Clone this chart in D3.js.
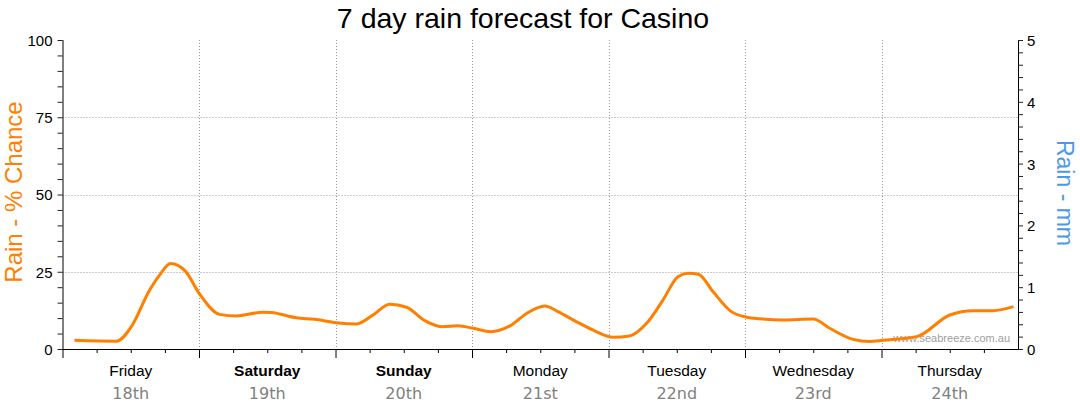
<!DOCTYPE html>
<html><head><meta charset="utf-8">
<script src="https://cdn.jsdelivr.net/npm/d3@7"></script>
<style>body{margin:0;background:#fff}svg{display:block}</style>
</head><body><svg id="c" width="1080" height="414"></svg>
<script>
// Data
const title = "7 day rain forecast for Casino";
const dayNames = ["Friday","Saturday","Sunday","Monday","Tuesday","Wednesday","Thursday"];
const dayDates = ["18th","19th","20th","21st","22nd","23rd","24th"];
const weekend = [false,true,true,false,false,false,false];
const chanceTicks = [0,25,50,75,100];
const mmTicks = [0,1,2,3,4,5];
// hours from start of Friday, rain chance (%)
const hours = [2.1,9.5,12.1,15.3,17.1,19,21.6,24.1,27.6,30.6,35.2,36.7,41.1,44.3,48.1,51.7,54.6,57.5,60.5,63.7,66.9,69.5,72.2,75.3,78.6,81.6,84.8,87.1,90.4,93.3,96.8,99.7,102.7,105.6,108.2,110,111.8,114.4,117.6,120.3,122.6,126.7,132,134.9,139,141.9,144.3,150.2,156,160.1,163.6,167.2];
const chance = [2.8,2.5,7.2,19,24,27.7,25.2,17.8,11.2,10.7,11.9,11.8,10.1,9.6,8.5,8.1,11,14.5,13.5,9.2,7.2,7.5,6.7,5.6,7.4,11.5,13.9,12.1,8.8,6.1,3.8,4.2,8.3,15.9,23.4,24.5,24.2,18.5,12.1,10.3,9.8,9.4,9.7,6.7,3.1,2.4,2.8,4,11,12.4,12.4,13.7];

const svg = d3.select("#c");
const L = 62.5, R = 1018, T = 40, B = 349;
const x = d3.scaleLinear().domain([0,168]).range([L,R]);
const yL = d3.scaleLinear().domain([0,100]).range([B,T]);
const yR = d3.scaleLinear().domain([0,5]).range([B,T]);

// grid
const g = svg.append("g");
g.selectAll(".hg").data([25,50,75]).join("line")
  .attr("x1",L).attr("x2",R).attr("y1",d=>Math.round(yL(d))+0.5).attr("y2",d=>Math.round(yL(d))+0.5)
  .attr("stroke","#999").attr("stroke-dasharray","1,2");
g.selectAll(".vg").data(d3.range(24,168,24)).join("line")
  .attr("x1",d=>Math.round(x(d))+0.5).attr("x2",d=>Math.round(x(d))+0.5).attr("y1",T).attr("y2",B)
  .attr("stroke","#999").attr("stroke-dasharray","1,2");

// left axis
const la = svg.append("g").attr("transform",`translate(${L},0)`)
  .call(d3.axisLeft(yL).tickValues(d3.range(0,101,5)).tickSize(5).tickFormat(d=>chanceTicks.includes(d)?d:""));
la.select(".domain").attr("d",`M0.5,${T}V${B}`);
la.selectAll("text").attr("font-family","Liberation Sans, Arial").attr("font-size",15).attr("fill","#000").attr("x",-10).attr("dy","0.36em");
la.selectAll("line").attr("stroke","#222");

// right axis
const ra = svg.append("g").attr("transform",`translate(${R},0)`)
  .call(d3.axisRight(yR).tickValues(d3.range(0,25.01,1).map(d=>d/5)).tickSize(5).tickFormat(d=>mmTicks.some(m=>Math.abs(m-d)<1e-6)?Math.round(d):""));
ra.select(".domain").attr("d",`M0.5,${T}V${B}`);
ra.selectAll("text").attr("font-family","Liberation Sans, Arial").attr("font-size",15).attr("fill","#000").attr("x",9).attr("dy","0.36em");
ra.selectAll("line").attr("stroke","#222");

// bottom axis
const ba = svg.append("g").attr("transform",`translate(0,${B})`)
  .call(d3.axisBottom(x).tickValues(d3.range(0,168,6)).tickSize(4).tickFormat(""));
ba.select(".domain").attr("d",`M${L},0.5H${R}`);
ba.selectAll(".tick line").attr("y2",d=>d%24===0?9:4).attr("stroke","#000");

// day labels
const dl = svg.append("g");
dl.selectAll(".dn").data(dayNames).join("text")
  .attr("x",(d,i)=>x(i*24+12)).attr("y",376).attr("text-anchor","middle")
  .attr("font-family","Liberation Sans, Arial").attr("font-size",15.5)
  .attr("font-weight",(d,i)=>weekend[i]?"bold":"normal").attr("fill","#000").text(d=>d);
dl.selectAll(".dd").data(dayDates).join("text")
  .attr("x",(d,i)=>x(i*24+12)).attr("y",399).attr("text-anchor","middle")
  .attr("font-family","DejaVu Sans").attr("font-size",16).attr("fill","#808080").text(d=>d);

// watermark
svg.append("text").attr("x",1010).attr("y",342).attr("text-anchor","end")
  .attr("font-family","Liberation Sans, Arial").attr("font-size",11).attr("fill","#a0a0a0").text("www.seabreeze.com.au");

// line
const line = d3.line().x(d=>x(d[0])).y(d=>yL(d[1])).curve(d3.curveMonotoneX);
svg.append("path").datum(hours.map((h,i)=>[h,chance[i]]))
  .attr("d",line).attr("fill","none").attr("stroke","#ff7f00").attr("stroke-width",3).attr("stroke-linejoin","round");

// titles
svg.append("text").attr("x",523).attr("y",28).attr("text-anchor","middle")
  .attr("font-family","Liberation Sans, Arial").attr("font-size",28.5).attr("fill","#000").text(title);
svg.append("text").attr("transform",`translate(22,192) rotate(-90)`).attr("text-anchor","middle")
  .attr("font-family","Liberation Sans, Arial").attr("font-size",24).attr("fill","#ff7f00").text("Rain - % Chance");
svg.append("text").attr("transform",`translate(1057,193) rotate(90)`).attr("text-anchor","middle")
  .attr("font-family","Liberation Sans, Arial").attr("font-size",23).attr("fill","#4d99e6").text("Rain - mm");
</script></body></html>
